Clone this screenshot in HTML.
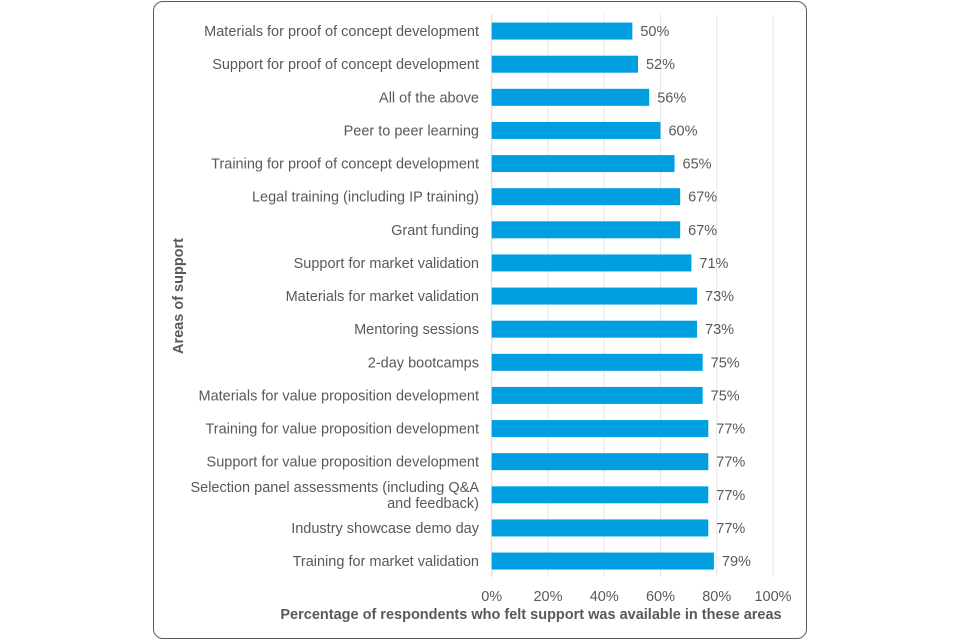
<!DOCTYPE html>
<html><head><meta charset="utf-8"><style>
body{margin:0;background:#fff;font-family:"Liberation Sans",sans-serif;}
#box{position:absolute;left:153px;top:1px;width:654px;height:638px;border:1px solid #595959;border-radius:10px;box-sizing:border-box;}
</style></head><body>
<div id="box"></div>
<svg id="chart" width="960" height="640" style="position:absolute;left:0;top:0"></svg>
<script>
const categories=["Materials for proof of concept development","Support for proof of concept development","All of the above","Peer to peer learning","Training for proof of concept development","Legal training (including IP training)","Grant funding","Support for market validation","Materials for market validation","Mentoring sessions","2-day bootcamps","Materials for value proposition development","Training for value proposition development","Support for value proposition development","Selection panel assessments (including Q&A|and feedback)","Industry showcase demo day","Training for market validation"];
const values=[50,52,56,60,65,67,67,71,73,73,75,75,77,77,77,77,79];
const ticks=[0,20,40,60,80,100];
const ns="http://www.w3.org/2000/svg";
const svg=document.getElementById('chart');
const x0=491.7,x1=773,yTop=14.5,step=33.125,bh=17,fs=14.5;
const xs=v=>x0+(x1-x0)*v/100;
const yc=i=>yTop+step*(i+0.5);
function mk(t,a,txt){const e=document.createElementNS(ns,t);for(const k in a)e.setAttribute(k,a[k]);if(txt!=null)e.textContent=txt;svg.appendChild(e);return e;}
ticks.forEach(t=>{
 const g=mk('line',{x1:xs(t),x2:xs(t),y1:yTop,y2:577,stroke:t===0?'#d9d9d9':'#e6e6e6','stroke-width':1});
 
 
 const l=mk('text',{x:xs(t),y:601,'text-anchor':'middle','font-size':fs,fill:'#595959'},t+'%');
 
 
});
categories.forEach((c,i)=>{
 const y=yc(i);
 const r=mk('rect',{x:x0,y:y-bh/2,width:xs(values[i])-x0,height:bh,fill:'#009fe0'});
 
 
 const v=mk('text',{x:xs(values[i])+8,y:y+5,'font-size':fs,fill:'#595959'},values[i]+'%');
 
 
 const parts=c.split('|');
 parts.forEach((p,j)=>{
  const ty=y+5+(j-(parts.length-1)/2)*16;
  const t=mk('text',{x:479,y:ty,'text-anchor':'end','font-size':fs,fill:'#595959'},p);
  
  
 });
});
const xt=mk('text',{x:531,y:619,'text-anchor':'middle','font-size':fs,'font-weight':'bold',fill:'#595959'},'Percentage of respondents who felt support was available in these areas');


const yt=mk('text',{x:0,y:0,'text-anchor':'middle','font-size':fs,'font-weight':'bold',fill:'#595959',transform:'translate(183,296) rotate(-90)'},'Areas of support');


</script>
</body></html>
